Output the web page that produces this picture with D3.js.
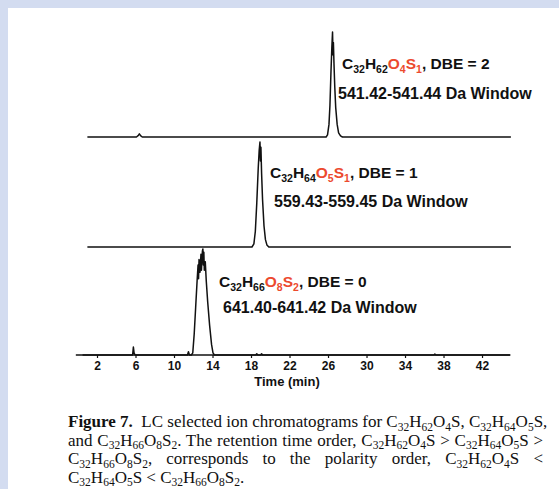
<!DOCTYPE html>
<html>
<head>
<meta charset="utf-8">
<script src="https://cdn.jsdelivr.net/npm/d3@7/dist/d3.min.js"></script>
<style>
  html, body { margin: 0; padding: 0; background: #ffffff; }
  svg { display: block; }
</style>
</head>
<body>
<svg id="chart" width="559" height="489"></svg>
<script>
// ---------------- DATA ----------------
// x axis
const xTicks = [2, 6, 10, 14, 18, 22, 26, 30, 34, 38, 42];
const xLabel = "Time (min)";

// Trace 1: C32H62O4S1, 541.42-541.44 Da window (relative intensity)
const t1Time = [1.0, 6.1, 6.3, 6.4, 6.55, 6.7, 25.8, 25.95, 26.1, 26.2, 26.3, 26.4, 26.47, 26.52, 26.56, 26.62, 26.7, 26.8, 26.95, 27.1, 27.3, 27.5, 45.0];
const t1Int  = [0, 0, 0.015, 0.03, 0.01, 0, 0, 0.02, 0.12, 0.3, 0.6, 0.86, 1.0, 0.78, 0.9, 0.7, 0.48, 0.28, 0.12, 0.04, 0.01, 0, 0];

// Trace 2: C32H64O5S1, 559.43-559.45 Da window
const t2Time = [1.0, 18.1, 18.3, 18.45, 18.6, 18.75, 18.85, 18.93, 18.98, 19.03, 19.1, 19.2, 19.35, 19.5, 19.65, 19.85, 45.0];
const t2Int  = [0, 0, 0.03, 0.15, 0.42, 0.75, 0.92, 1.0, 0.82, 0.95, 0.7, 0.45, 0.2, 0.07, 0.02, 0, 0];

// Trace 3: C32H66O8S2, 641.40-641.42 Da window
const t3Time = [0.5, 5.7, 5.78, 5.85, 5.95, 11.4, 11.5, 11.6, 11.8, 11.95, 12.1, 12.25, 12.4, 12.5, 12.55, 12.6, 12.7, 12.8, 12.85, 12.95, 13.0, 13.05, 13.1, 13.15, 13.25, 13.35, 13.5, 13.7, 13.9, 14.05, 14.2, 18.5, 18.6, 18.7, 19.0, 19.1, 19.2, 37.0, 37.1, 37.2, 44.9];
const t3Int  = [0, 0, 0.075, 0.02, 0, 0, 0.03, 0, 0, 0.02, 0.2, 0.45, 0.7, 0.85, 0.72, 0.9, 0.78, 0.95, 0.8, 0.98, 1.0, 0.85, 0.97, 0.8, 0.88, 0.7, 0.5, 0.28, 0.1, 0.02, 0, 0, 0.012, 0, 0, 0.012, 0, 0, 0.01, 0, 0];

// Annotation texts ( _{..} = subscript, [..] = red )
const formulas = ["C_{32}H_{62}[O_{4}S_{1}], DBE = 2", "C_{32}H_{64}[O_{5}S_{1}], DBE = 1", "C_{32}H_{66}[O_{8}S_{2}], DBE = 0"];
const windows = ["541.42-541.44 Da Window", "559.43-559.45 Da Window", "641.40-641.42 Da Window"];

// Caption lines ( *..* = bold )
const captionLines = [
  "*Figure 7.*  LC selected ion chromatograms for C_{32}H_{62}O_{4}S, C_{32}H_{64}O_{5}S,",
  "and C_{32}H_{66}O_{8}S_{2}. The retention time order, C_{32}H_{62}O_{4}S > C_{32}H_{64}O_{5}S >",
  "C_{32}H_{66}O_{8}S_{2}, corresponds to the polarity order, C_{32}H_{62}O_{4}S <",
  "C_{32}H_{64}O_{5}S < C_{32}H_{66}O_{8}S_{2}."
];

// ---------------- LAYOUT ----------------
const svg = d3.select("#chart");
const W = 559, H = 489;
const frameColor = "#d3dcf0";
const red = "#ec4a2e";

svg.append("rect").attr("x", 0).attr("y", 0).attr("width", W).attr("height", 8).attr("fill", frameColor);
svg.append("rect").attr("x", 0).attr("y", 0).attr("width", 8).attr("height", H).attr("fill", frameColor);

const x = d3.scaleLinear().domain([0, 45]).range([77.75, 510.9]);

// each panel: baseline and apex pixel
const panels = [
  { time: t1Time, inten: t1Int, y: d3.scaleLinear().domain([0, 1]).range([137, 32]) },
  { time: t2Time, inten: t2Int, y: d3.scaleLinear().domain([0, 1]).range([247, 142]) },
  { time: t3Time, inten: t3Int, y: d3.scaleLinear().domain([0, 1]).range([355, 249]) }
];

// x axis
const axisG = svg.append("g").attr("transform", "translate(0,355)");
const axis = d3.axisBottom(x).tickValues(xTicks).tickSize(3).tickPadding(3).tickFormat(d3.format("d"));
axisG.call(axis);
axisG.select(".domain").attr("d", `M${x(-0.2)},0H${x(44.95)}`).attr("stroke", "#111").attr("stroke-width", 1.4);
axisG.selectAll(".tick line").attr("stroke", "#111").attr("stroke-width", 1.2);
axisG.selectAll(".tick text")
  .attr("font-family", "'Liberation Sans', Arial, sans-serif")
  .attr("font-weight", "bold").attr("font-size", 12).attr("fill", "#111");

svg.append("text")
  .attr("x", 287).attr("y", 386)
  .attr("text-anchor", "middle")
  .attr("font-family", "'Liberation Sans', Arial, sans-serif")
  .attr("font-weight", "bold").attr("font-size", 13).attr("fill", "#111")
  .text(xLabel);

// traces
panels.forEach(p => {
  const pts = p.time.map((t, i) => [t, p.inten[i]]);
  const line = d3.line().x(d => x(d[0])).y(d => p.y(d[1]));
  svg.append("path").attr("d", line(pts))
    .attr("fill", "none").attr("stroke", "#111").attr("stroke-width", 1.5)
    .attr("stroke-linejoin", "round");
});

// rich text helper
function parseRich(str) {
  const segs = [];
  let i = 0, redOn = false, boldOn = false, buf = "";
  const flush = () => { if (buf) { segs.push({ text: buf, sub: false, red: redOn, bold: boldOn }); buf = ""; } };
  while (i < str.length) {
    const c = str[i];
    if (c === "_" && str[i + 1] === "{") {
      flush();
      const j = str.indexOf("}", i);
      segs.push({ text: str.slice(i + 2, j), sub: true, red: redOn, bold: boldOn });
      i = j + 1; continue;
    }
    if (c === "[") { flush(); redOn = true; i++; continue; }
    if (c === "]") { flush(); redOn = false; i++; continue; }
    if (c === "*") { flush(); boldOn = !boldOn; i++; continue; }
    buf += c; i++;
  }
  flush();
  return segs;
}

function richText(g, str, opts) {
  const t = g.append("text").attr("x", opts.x).attr("y", opts.y)
    .attr("font-family", opts.family).attr("font-size", opts.size)
    .attr("font-weight", opts.weight || "normal").attr("fill", "#111")
    .attr("xml:space", "preserve").style("white-space", "pre");
  let shifted = false;
  let spaces = 0;
  parseRich(str).forEach(s => {
    const ts = t.append("tspan").text(s.text);
    if (!s.sub) spaces += (s.text.match(/ /g) || []).length;
    if (s.red) ts.attr("fill", red);
    if (s.bold) ts.attr("font-weight", "bold");
    if (s.sub && !shifted) { ts.attr("dy", opts.subDy).attr("font-size", opts.subSize); shifted = true; }
    else if (s.sub && shifted) { ts.attr("font-size", opts.subSize); }
    else if (!s.sub && shifted) { ts.attr("dy", -opts.subDy); shifted = false; }
  });
  if (opts.justify) {
    const natural = t.node().getComputedTextLength();
    const extra = (opts.justify - natural) / Math.max(1, spaces);
    if (extra > 0) t.attr("word-spacing", extra);
  }
  return t;
}

// annotations
const annot = [
  { fx: 342, fy: 69, wx: 338, wy: 99 },
  { fx: 270, fy: 178, wx: 274, wy: 207 },
  { fx: 219, fy: 287, wx: 223, wy: 313 }
];
annot.forEach((a, i) => {
  richText(svg, formulas[i], { x: a.fx, y: a.fy, family: "'Liberation Sans', Arial, sans-serif", size: 15.5, weight: "bold", subSize: 10.5, subDy: 4 });
  svg.append("text").attr("x", a.wx).attr("y", a.wy)
    .attr("font-family", "'Liberation Sans', Arial, sans-serif")
    .attr("font-weight", "bold").attr("font-size", 16).attr("fill", "#111")
    .text(windows[i]);
});

// caption
const capY = [427, 445.5, 464, 482.5];
captionLines.forEach((ln, i) => {
  richText(svg, ln, {
    x: 68, y: capY[i], family: "'Liberation Serif', 'Times New Roman', serif", size: 17,
    subSize: 11.5, subDy: 3.5, justify: i < 3 ? 475 : null
  });
});
</script>
</body>
</html>
